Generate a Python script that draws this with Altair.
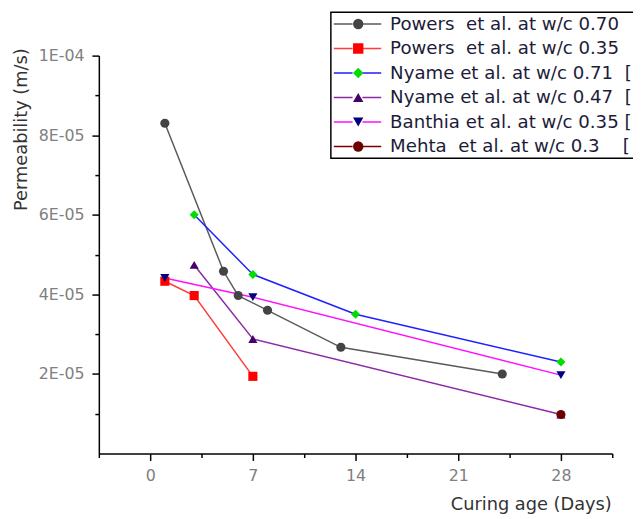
import altair as alt
import pandas as pd

# ---- data ----
series_names = [
    "Powers\u00a0 et al. at w/c 0.70",
    "Powers\u00a0 et al. at w/c 0.35",
    "Nyame et al. at w/c 0.71\u00a0 [",
    "Nyame et al. at w/c 0.47\u00a0 [",
    "Banthia et al. at w/c 0.35 [",
    "Mehta\u00a0 et al. at w/c 0.3\u00a0\u00a0\u00a0 [",
]

powers70_days = [1, 5, 6, 8, 13, 24]
powers70_perm = [8.3e-5, 4.58e-5, 3.97e-5, 3.6e-5, 2.67e-5, 2.0e-5]

powers35_days = [1, 3, 7]
powers35_perm = [4.33e-5, 3.97e-5, 1.94e-5]

nyame71_days = [3, 7, 14, 28]
nyame71_perm = [6.0e-5, 4.5e-5, 3.5e-5, 2.3e-5]

nyame47_days = [3, 7, 28]
nyame47_perm = [4.74e-5, 2.88e-5, 0.98e-5]

banthia_days = [1, 7, 28]
banthia_perm = [4.41e-5, 3.93e-5, 1.97e-5]

mehta_days = [28]
mehta_perm = [0.98e-5]

line_colors = ["#5a5a5a", "#ff3b3b", "#1f1fff", "#8a2aa6", "#ff10ff", "#7a0000"]
marker_colors = ["#444444", "#ff0000", "#00dd00", "#45006a", "#00007f", "#6e0000"]
marker_shapes = ["circle", "square", "diamond", "triangle-up", "triangle-down", "circle"]
marker_sizes = [85, 85, 200, 150, 150, 110]

x_tick_values = [-3.5, 0, 3.5, 7, 10.5, 14, 17.5, 21, 24.5, 28, 31.5]
y_tick_values = [1e-5, 2e-5, 3e-5, 4e-5, 5e-5, 6e-5, 7e-5, 8e-5, 9e-5, 1e-4]

all_days = [powers70_days, powers35_days, nyame71_days, nyame47_days, banthia_days, mehta_days]
all_perm = [powers70_perm, powers35_perm, nyame71_perm, nyame47_perm, banthia_perm, mehta_perm]

rows = []
for name, days, perms in zip(series_names, all_days, all_perm):
    for d, p in zip(days, perms):
        rows.append({"series": name, "series_l": name, "series_s": name, "day": d, "perm": p})
df = pd.DataFrame(rows)

FONT = "DejaVu Sans"

x_enc = alt.X(
    "day:Q",
    scale=alt.Scale(domain=[-3.5, 31.5], nice=False, zero=False),
    axis=alt.Axis(
        values=x_tick_values,
        title="Curing age (Days)",
        labelExpr="datum.value % 7 === 0 ? datum.label : ''",
        tickSize={"condition": {"test": "datum.value % 7 === 0", "value": 7}, "value": 4},
        grid=False,
        domainColor="black", domainWidth=1.5,
        tickColor="black", tickWidth=1.5,
        labelColor="#808080", labelFont=FONT, labelFontSize=16, labelPadding=7,
        labelFlush=False, labelOverlap=False,
        titleX=519, titleY=52, titleAlign="right", titleBaseline="middle",
        titleFont=FONT, titleFontSize=18, titleFontWeight="normal", titleColor="#333333",
    ),
)

y_label_expr = (
    "datum.value > 0 && round(datum.value * 1e5) % 2 === 0 ? "
    "(round(datum.value / pow(10, floor(log(datum.value) / LN10 + 1e-9))) + 'E-0' + "
    "(-floor(log(datum.value) / LN10 + 1e-9))) : ''"
)

y_enc = alt.Y(
    "perm:Q",
    scale=alt.Scale(domain=[0, 1e-4], nice=False),
    axis=alt.Axis(
        values=y_tick_values,
        title="Permeability (m/s)",
        labelExpr=y_label_expr,
        tickSize={"condition": {"test": "round(datum.value * 1e5) % 2 === 0", "value": 7}, "value": 4},
        grid=False,
        domainColor="black", domainWidth=1.5,
        tickColor="black", tickWidth=1.5,
        labelColor="#808080", labelFont=FONT, labelFontSize=16, labelPadding=8,
        labelOverlap=False, labelFlush=False,
        titleAngle=270, titleX=-78, titleY=-8, titleAlign="right", titleBaseline="middle",
        titleFont=FONT, titleFontSize=18, titleFontWeight="normal", titleColor="#333333",
    ),
)

legend_common = dict(
    title=None, orient="none", direction="vertical",
    clipHeight=20, rowPadding=4.8, padding=2,
    labelFont=FONT, labelFontSize=18.4, labelColor="#1c1c38", labelLimit=400,
    labelOffset=8,
)

lines = alt.Chart(df).mark_line(strokeWidth=1.5).encode(
    x=x_enc,
    y=y_enc,
    stroke=alt.Stroke(
        "series_l:N",
        sort=series_names,
        scale=alt.Scale(range=line_colors),
        legend=alt.Legend(
            legendX=235, legendY=-44,
            symbolType="stroke", symbolSize=2304, symbolStrokeWidth=1.5,
            symbolDash=[19, 10],
            strokeColor="black",
            **legend_common,
        ),
    ),
    order="day:Q",
)

marker_legend = alt.Legend(
    legendX=251.5, legendY=-44,
    symbolSize=110, symbolStrokeWidth=0, labelOpacity=0, labelExpr="''",
    **legend_common,
)

points = alt.Chart(df).mark_point(filled=True, opacity=1).encode(
    x=x_enc,
    y=y_enc,
    fill=alt.Fill("series:N", scale=alt.Scale(domain=series_names, range=marker_colors), legend=marker_legend),
    shape=alt.Shape("series:N", scale=alt.Scale(domain=series_names, range=marker_shapes), legend=marker_legend),
    size=alt.Size("series_s:N", sort=series_names, scale=alt.Scale(range=marker_sizes), legend=None),
)

chart = (
    alt.layer(lines, points)
    .properties(
        width=520, height=403,
        padding={"left": 92, "top": 45, "right": 21, "bottom": 58},
        autosize=alt.AutoSizeParams(type="none"),
        background="white",
    )
    .configure_view(stroke=None)
    .configure_legend(strokeWidth=1.5)
)

chart.save("out.html", embed_options={"renderer": "svg", "actions": False})
